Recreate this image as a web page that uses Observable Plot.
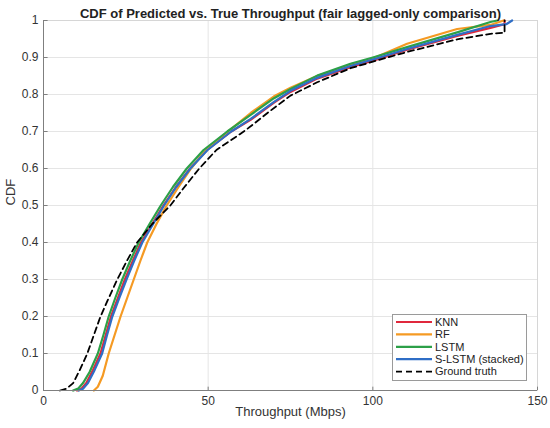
<!DOCTYPE html>
<html><head><meta charset="utf-8">
<script src="https://cdn.jsdelivr.net/npm/d3@7"></script>
<script src="https://cdn.jsdelivr.net/npm/@observablehq/plot@0.6"></script>
<style>body{margin:0;background:#fff} svg{display:block}</style>
</head><body><div id="chart"></div>
<script>
const xTicks = [0, 50, 100, 150];
const yTicks = [0, 0.1, 0.2, 0.3, 0.4, 0.5, 0.6, 0.7, 0.8, 0.9, 1];
const yTickLabels = ["0","0.1","0.2","0.3","0.4","0.5","0.6","0.7","0.8","0.9","1"];

const knnX = [10.2,11.5,13,15,17.3,18.9,20.5,22.6,24.7,27.1,29.6,33,36.4,40.2,44.5,49.7,57,63,70,75,83.1,93.2,101.3,110.4,125.6,135.7,140,140];
const knnY = [0,0.005,0.02,0.055,0.1,0.15,0.2,0.25,0.3,0.35,0.4,0.45,0.5,0.55,0.6,0.65,0.7,0.732,0.778,0.807,0.843,0.874,0.895,0.921,0.958,0.98,0.99,1];

const rfX = [15.3,16.5,18,19.8,21.6,23.4,25.4,27.4,29.4,31.5,34.3,37.4,41,44.8,49.3,56,62.9,70,75,83.1,93.2,100,110.4,125.6,135.7,139.7];
const rfY = [0,0.01,0.04,0.1,0.15,0.2,0.25,0.3,0.35,0.4,0.45,0.5,0.55,0.6,0.65,0.7,0.75,0.795,0.818,0.85,0.88,0.897,0.937,0.977,0.988,1];

const lstmX = [9,10.5,12,14,16.5,18.2,19.8,21.8,23.9,26.3,28.9,32.2,35.6,39.3,43.5,48.6,55.8,62.9,70,75,83.1,93.2,100,110.4,125.6,135.7,137.8];
const lstmY = [0,0.005,0.02,0.05,0.1,0.15,0.2,0.25,0.3,0.35,0.4,0.45,0.5,0.55,0.6,0.65,0.7,0.745,0.79,0.815,0.851,0.883,0.9,0.928,0.968,0.996,1];

const slstmX = [10.7,12,13.5,15.5,17.8,19.3,20.9,23,25.2,27.5,30,33.3,36.6,40.3,44.6,49.8,57,62.9,70,75,83.1,93.2,101.3,110.4,125.6,135.7,140.5,142.3];
const slstmY = [0,0.005,0.02,0.055,0.1,0.15,0.2,0.25,0.3,0.35,0.4,0.45,0.5,0.55,0.6,0.65,0.7,0.734,0.78,0.81,0.845,0.877,0.898,0.923,0.961,0.985,0.99,1];

const gtX = [5,7,9,11,13.3,15.3,17.3,19.8,22.4,25.3,28.4,33,38.5,42.8,47.3,52.5,60.8,62.9,68,75,83.1,93.2,101.3,110.4,125.6,135.7,140,140];
const gtY = [0,0.005,0.02,0.055,0.1,0.15,0.2,0.25,0.3,0.35,0.4,0.45,0.5,0.55,0.6,0.65,0.7,0.714,0.75,0.797,0.833,0.871,0.892,0.915,0.949,0.964,0.967,1];

const series = [
  {name: "KNN", color: "#e0283c", dash: null, xs: knnX, ys: knnY},
  {name: "RF", color: "#f59a23", dash: null, xs: rfX, ys: rfY},
  {name: "LSTM", color: "#2ca048", dash: null, xs: lstmX, ys: lstmY},
  {name: "S-LSTM (stacked)", color: "#2f6ec6", dash: null, xs: slstmX, ys: slstmY},
  {name: "Ground truth", color: "#000000", dash: "6,4", xs: gtX, ys: gtY}
];

const font = "'Liberation Sans', Arial, Helvetica, sans-serif";
const axisColor = "#7f7f7f";

const lineMarks = series.map(s => {
  const rows = s.xs.map((x, i) => ({x, y: s.ys[i]}));
  return Plot.line(rows, {x: "x", y: "y", stroke: s.color, strokeWidth: s.dash ? 1.8 : 2.2, strokeDasharray: s.dash || undefined});
});

const chart = Plot.plot({
  width: 550, height: 428,
  marginLeft: 43, marginRight: 13, marginTop: 20, marginBottom: 38,
  style: {fontFamily: font, fontSize: "12px", background: "#fff", color: "#262626"},
  x: {domain: [0, 150]},
  y: {domain: [0, 1]},
  marks: [
    Plot.gridX(xTicks, {stroke: "#e5e5e5", strokeOpacity: 1}),
    Plot.gridY(yTicks, {stroke: "#e5e5e5", strokeOpacity: 1}),
    Plot.frame({stroke: "#d6d6d6"}),
    ...lineMarks,
    Plot.ruleX([0], {stroke: axisColor}),
    Plot.ruleY([0], {stroke: axisColor}),
    Plot.ruleX(xTicks, {y1: 0, y2: 0.009, stroke: axisColor}),
    Plot.ruleY(yTicks, {x1: 0, x2: 1.4, stroke: axisColor}),
    Plot.axisX(xTicks, {tickSize: 0, tickPadding: 6, label: null, fill: "#333", fontSize: 12}),
    Plot.axisY(yTicks, {tickSize: 0, tickPadding: 5, label: null, fill: "#333", fontSize: 12, tickFormat: (d, i) => yTickLabels[i]}),
    Plot.text(["CDF of Predicted vs. True Throughput (fair lagged-only comparison)"], {frameAnchor: "top", dy: -12, fontWeight: "bold", fontSize: 13, fill: "#222"}),
    Plot.text(["Throughput (Mbps)"], {frameAnchor: "bottom", dy: 25, fontSize: 13, fill: "#333"}),
    Plot.text(["CDF"], {frameAnchor: "left", dx: -33, rotate: -90, fontSize: 13, fill: "#333"})
  ]
});

// legend
const svg = d3.select(chart);
const lg = svg.append("g").attr("font-family", font).attr("font-size", 11).attr("text-anchor", "start");
lg.append("rect").attr("x", 392.5).attr("y", 314.5).attr("width", 134).attr("height", 66)
  .attr("fill", "#fff").attr("stroke", "#9a9a9a");
series.forEach((s, i) => {
  const cy = 322 + i * 12.4;
  lg.append("line").attr("x1", 396).attr("x2", 432).attr("y1", cy).attr("y2", cy)
    .attr("stroke", s.color).attr("stroke-width", s.dash ? 1.8 : 2.2)
    .attr("stroke-dasharray", s.dash || null);
  lg.append("text").attr("x", 435).attr("y", cy).attr("dy", "0.35em")
    .attr("text-anchor", "start").attr("fill", "#222").text(s.name);
});

document.getElementById("chart").appendChild(chart);
</script>
</body></html>
